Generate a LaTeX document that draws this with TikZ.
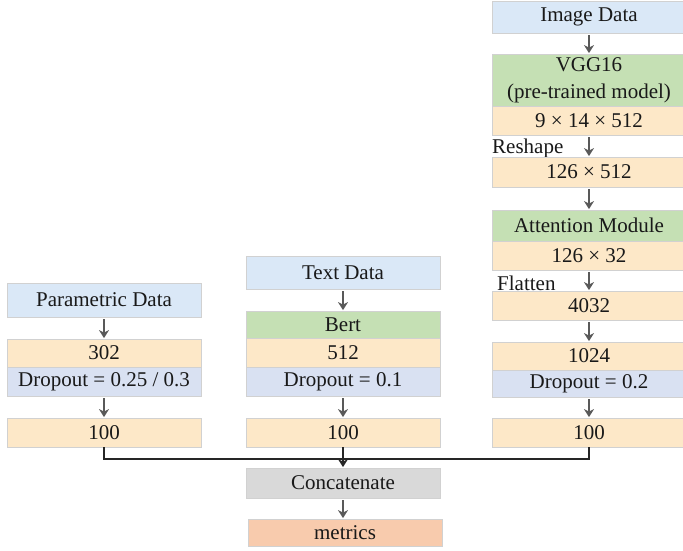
\documentclass[tikz,border=0pt]{standalone}
\usepackage{fontspec}
\setmainfont{Liberation Serif}
\usetikzlibrary{arrows.meta}
\definecolor{cblue}{HTML}{DAE8F7}
\definecolor{cgreen}{HTML}{C5E0B4}
\definecolor{corange}{HTML}{FDE8C8}
\definecolor{cdrop}{HTML}{D9E1F2}
\definecolor{cgray}{HTML}{D9D9D9}
\definecolor{cmetric}{HTML}{F8CBAD}
\definecolor{carrow}{HTML}{595959}
\tikzset{
  box/.style={draw=black!18, line width=0.8pt, minimum width=194pt, inner sep=0pt,
    font=\fontsize{21}{27}\selectfont, text=black!90, align=center},
  flow/.style={draw=carrow, line width=1.8pt, -{Stealth[length=8pt,width=10pt,inset=2.5pt]}, shorten <=2pt, shorten >=0.5pt},
  merge/.style={draw=black!85, line width=1.6pt},
  lbl/.style={font=\fontsize{21}{24}\selectfont, text=black!90, anchor=west, inner sep=0pt}
}
\begin{document}
\begin{tikzpicture}[x=1pt,y=-1pt]
\useasboundingbox (0,0) rectangle (683,550);
% right column
\node[box, fill=cblue, minimum height=32pt] (img) at (589,17) {Image Data};
\node[box, fill=cgreen, minimum height=52pt] (vgg) at (589,80) {VGG16\\(pre-trained model)};
\node[box, fill=corange, minimum height=29pt] (d1) at (589,120.5) {9 × 14 × 512};
\node[lbl] (reshape) at (492,148) {Reshape};
\node[box, fill=corange, minimum height=30pt] (d2) at (589,172) {126 × 512};
\node[box, fill=cgreen, minimum height=31pt] (att) at (589,225.5) {Attention Module};
\node[box, fill=corange, minimum height=29pt] (d3) at (589,255.5) {126 × 32};
\node[lbl] (flatten) at (497,283) {Flatten};
\node[box, fill=corange, minimum height=29pt] (d4) at (589,305.5) {4032};
\node[box, fill=corange, minimum height=28pt] (d5) at (589,356) {1024};
\node[box, fill=cdrop, minimum height=27pt] (dr3) at (589,383.5) {Dropout = 0.2};
\node[box, fill=corange, minimum height=29pt] (o3) at (589,432.5) {100};
% left column
\node[box, fill=cblue, minimum height=34pt] (par) at (104,300) {Parametric Data};
\node[box, fill=corange, minimum height=28pt] (p302) at (104,353) {302};
\node[box, fill=cdrop, minimum height=29pt] (dr1) at (104,381.5) {Dropout = 0.25 / 0.3};
\node[box, fill=corange, minimum height=29pt] (o1) at (104,432.5) {100};
% middle column
\node[box, fill=cblue, minimum height=33pt] (txt) at (343,272.5) {Text Data};
\node[box, fill=cgreen, minimum height=27pt] (bert) at (343,324.5) {Bert};
\node[box, fill=corange, minimum height=29pt] (m512) at (343,352.5) {512};
\node[box, fill=cdrop, minimum height=29pt] (dr2) at (343,381.5) {Dropout = 0.1};
\node[box, fill=corange, minimum height=29pt] (o2) at (343,432.5) {100};
% bottom
\node[box, fill=cgray, minimum height=30pt] (cat) at (343,483) {Concatenate};
\node[box, fill=cmetric, minimum height=27pt] (met) at (345,532.5) {metrics};
% arrows
\draw[flow] (img) -- (vgg);
\draw[flow] (d1) -- (d2);
\draw[flow] (d2) -- (att);
\draw[flow] (d3) -- (d4);
\draw[flow] (d4) -- (d5);
\draw[flow] (dr3) -- (o3);
\draw[flow] (par) -- (p302);
\draw[flow] (dr1) -- (o1);
\draw[flow] (txt) -- (bert);
\draw[flow] (dr2) -- (o2);
\draw[flow] (cat) -- (met.north -| cat.south);
\coordinate (j) at (343,459);
\draw[merge] (o1.south) |- (j) -| (o3.south);
\draw[merge, -{Stealth[length=8pt,width=10pt,inset=2.5pt]}, shorten >=0.5pt] (o2.south) -- (cat.north);
\end{tikzpicture}
\end{document}
